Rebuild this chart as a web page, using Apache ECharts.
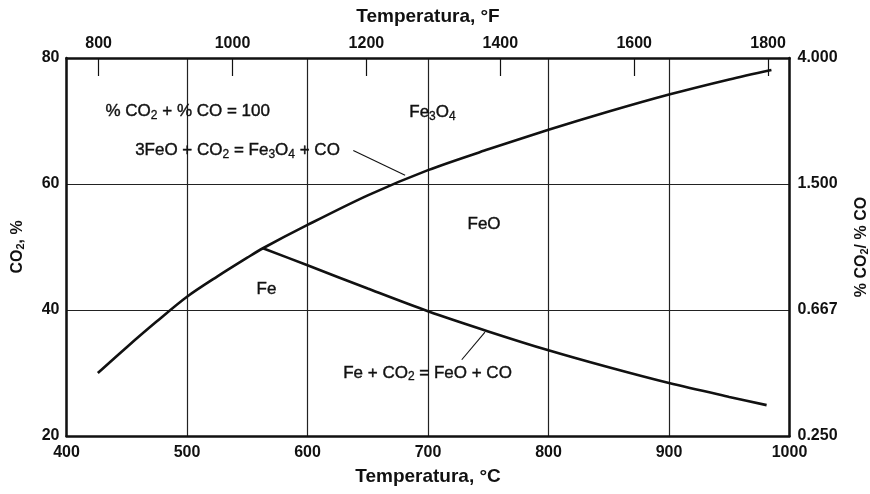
<!DOCTYPE html>
<html>
<head>
<meta charset="utf-8">
<script src="https://cdn.jsdelivr.net/npm/echarts@6/dist/echarts.min.js"></script>
<style>
html,body{margin:0;padding:0;background:#fff;}
#chart{width:870px;height:494px;}
</style>
</head>
<body>
<div id="chart"></div>
<script>
// ---- data ----
const celsiusTicks = [400, 500, 600, 700, 800, 900, 1000];
const fahrenheitTicks = [800, 1000, 1200, 1400, 1600, 1800];
const co2Ticks = [20, 40, 60, 80];
const ratioLabels = ['0.250', '0.667', '1.500', '4.000'];

// 3FeO + CO2 = Fe3O4 + CO boundary (°C, % CO2)
const magnetiteTemp = [426, 450, 475, 500, 525, 550, 563, 600, 650, 700, 750, 800, 850, 900, 950, 985];
const magnetiteCO2  = [30.0, 34.1, 38.2, 42.1, 45.3, 48.3, 49.8, 53.5, 58.2, 62.2, 65.5, 68.6, 71.5, 74.2, 76.6, 78.1];

// Fe + CO2 = FeO + CO boundary (°C, % CO2)
const wustiteTemp = [563, 600, 650, 700, 750, 800, 850, 900, 950, 981];
const wustiteCO2  = [49.8, 47.1, 43.4, 39.8, 36.6, 33.6, 30.9, 28.4, 26.2, 24.9];

// annotation texts and anchors (°C, % CO2)
const noteTexts = [
  '{n|% CO}{s|2}{n| + % CO = 100}',
  '{n|3FeO + CO}{s|2}{n| = Fe}{s|3}{n|O}{s|4}{n| + CO}',
  '{n|Fe}{s|3}{n|O}{s|4}',
  '{n|FeO}',
  '{n|Fe}',
  '{n|Fe + CO}{s|2}{n| = FeO + CO}'
];
const noteTemp = [500.6, 541.9, 703.7, 746.5, 566, 699.6];
const noteCO2  = [71.5, 65.3, 71.3, 53.6, 43.3, 30.0];

// leader lines
const leader1 = [[638, 65.3], [681, 61.4]];
const leader2 = [[728, 32.1], [747.3, 36.5]];

// ---- chart ----
const toF = c => c * 9 / 5 + 32;
const chart = echarts.init(document.getElementById('chart'), null, {renderer: 'canvas'});
const ink = '#111';
const font = 'Liberation Sans, Arial, Helvetica, sans-serif';
const richStyles = {
  n: {fontSize: 17, fontFamily: font, color: ink, textBorderColor: ink, textBorderWidth: 0.4},
  s: {fontSize: 12, fontFamily: font, color: ink, textBorderColor: ink, textBorderWidth: 0.3, padding: [8, 0, 0, 0]}
};
const nameRich = {
  n: {fontSize: 16, fontFamily: font, color: ink, fontWeight: 'bold'},
  s: {fontSize: 11, fontFamily: font, color: ink, fontWeight: 'bold', padding: [7, 0, 0, 0]}
};
const tickLabel = {color: ink, fontSize: 16, fontWeight: 'bold', fontFamily: font};
const plain = v => String(v);

const option = {
  backgroundColor: '#fff',
  animation: false,
  grid: {left: 66.5, right: 80.5, top: 58, bottom: 58, outerBoundsMode: 'none', containLabel: false},
  xAxis: [
    {
      type: 'value', position: 'bottom',
      min: celsiusTicks[0], max: celsiusTicks[celsiusTicks.length - 1], interval: 100,
      axisLine: {show: true, lineStyle: {color: ink, width: 2.5}},
      axisTick: {show: false},
      axisLabel: Object.assign({margin: 9, formatter: plain}, tickLabel),
      splitLine: {show: true, lineStyle: {color: '#222', width: 1.2}},
      name: 'Temperatura, °C', nameLocation: 'middle', nameGap: 31,
      nameTextStyle: {color: ink, fontSize: 19, fontWeight: 'bold', fontFamily: font}
    },
    {
      type: 'value', position: 'top',
      min: toF(celsiusTicks[0]), max: toF(celsiusTicks[celsiusTicks.length - 1]),
      axisLine: {show: true, lineStyle: {color: ink, width: 2.5}},
      axisTick: {show: true, inside: true, length: 18, customValues: fahrenheitTicks, lineStyle: {color: ink, width: 1.2}},
      axisLabel: Object.assign({show: true, customValues: fahrenheitTicks, margin: 6, formatter: plain}, tickLabel),
      splitLine: {show: false},
      name: 'Temperatura, °F', nameLocation: 'middle', nameGap: 32,
      nameTextStyle: {color: ink, fontSize: 19, fontWeight: 'bold', fontFamily: font}
    }
  ],
  yAxis: [
    {
      type: 'value', position: 'left',
      min: co2Ticks[0], max: co2Ticks[co2Ticks.length - 1], interval: 20,
      axisLine: {show: true, lineStyle: {color: ink, width: 2.5}},
      axisTick: {show: false},
      axisLabel: Object.assign({margin: 7, formatter: plain}, tickLabel),
      splitLine: {show: true, lineStyle: {color: '#222', width: 1.2}},
      name: '{n|CO}{s|2}{n|, %}', nameLocation: 'middle', nameGap: 40, nameRotate: 90,
      nameTextStyle: {rich: nameRich}
    },
    {
      type: 'value', position: 'right',
      min: co2Ticks[0], max: co2Ticks[co2Ticks.length - 1], interval: 20,
      axisLine: {show: true, lineStyle: {color: ink, width: 2.5}},
      axisTick: {show: false},
      axisLabel: Object.assign({margin: 8,
        formatter: v => ratioLabels[co2Ticks.indexOf(v)] || ''}, tickLabel),
      splitLine: {show: false},
      name: '{n|% CO}{s|2}{n|/ % CO}', nameLocation: 'middle', nameGap: 63, nameRotate: 90,
      nameTextStyle: {rich: nameRich}
    }
  ],
  series: [
    {
      type: 'line', xAxisIndex: 0, yAxisIndex: 0, smooth: 0.3, showSymbol: false,
      lineStyle: {color: ink, width: 2.6},
      data: magnetiteTemp.map((t, i) => [t, magnetiteCO2[i]])
    },
    {
      type: 'line', xAxisIndex: 0, yAxisIndex: 0, smooth: 0.3, showSymbol: false,
      lineStyle: {color: ink, width: 2.6},
      data: wustiteTemp.map((t, i) => [t, wustiteCO2[i]])
    },
    {
      type: 'line', xAxisIndex: 0, yAxisIndex: 0, showSymbol: false,
      lineStyle: {color: ink, width: 1.1}, data: leader1
    },
    {
      type: 'line', xAxisIndex: 0, yAxisIndex: 0, showSymbol: false,
      lineStyle: {color: ink, width: 1.1}, data: leader2
    },
    {
      type: 'scatter', xAxisIndex: 0, yAxisIndex: 0, symbolSize: 0, silent: true,
      itemStyle: {color: ink, opacity: 1},
      data: noteTemp.map((t, i) => [t, noteCO2[i]]),
      label: {
        show: true, position: 'inside', color: ink, opacity: 1,
        formatter: p => noteTexts[p.dataIndex],
        rich: richStyles
      }
    }
  ]
};
chart.setOption(option);
</script>
</body>
</html>
